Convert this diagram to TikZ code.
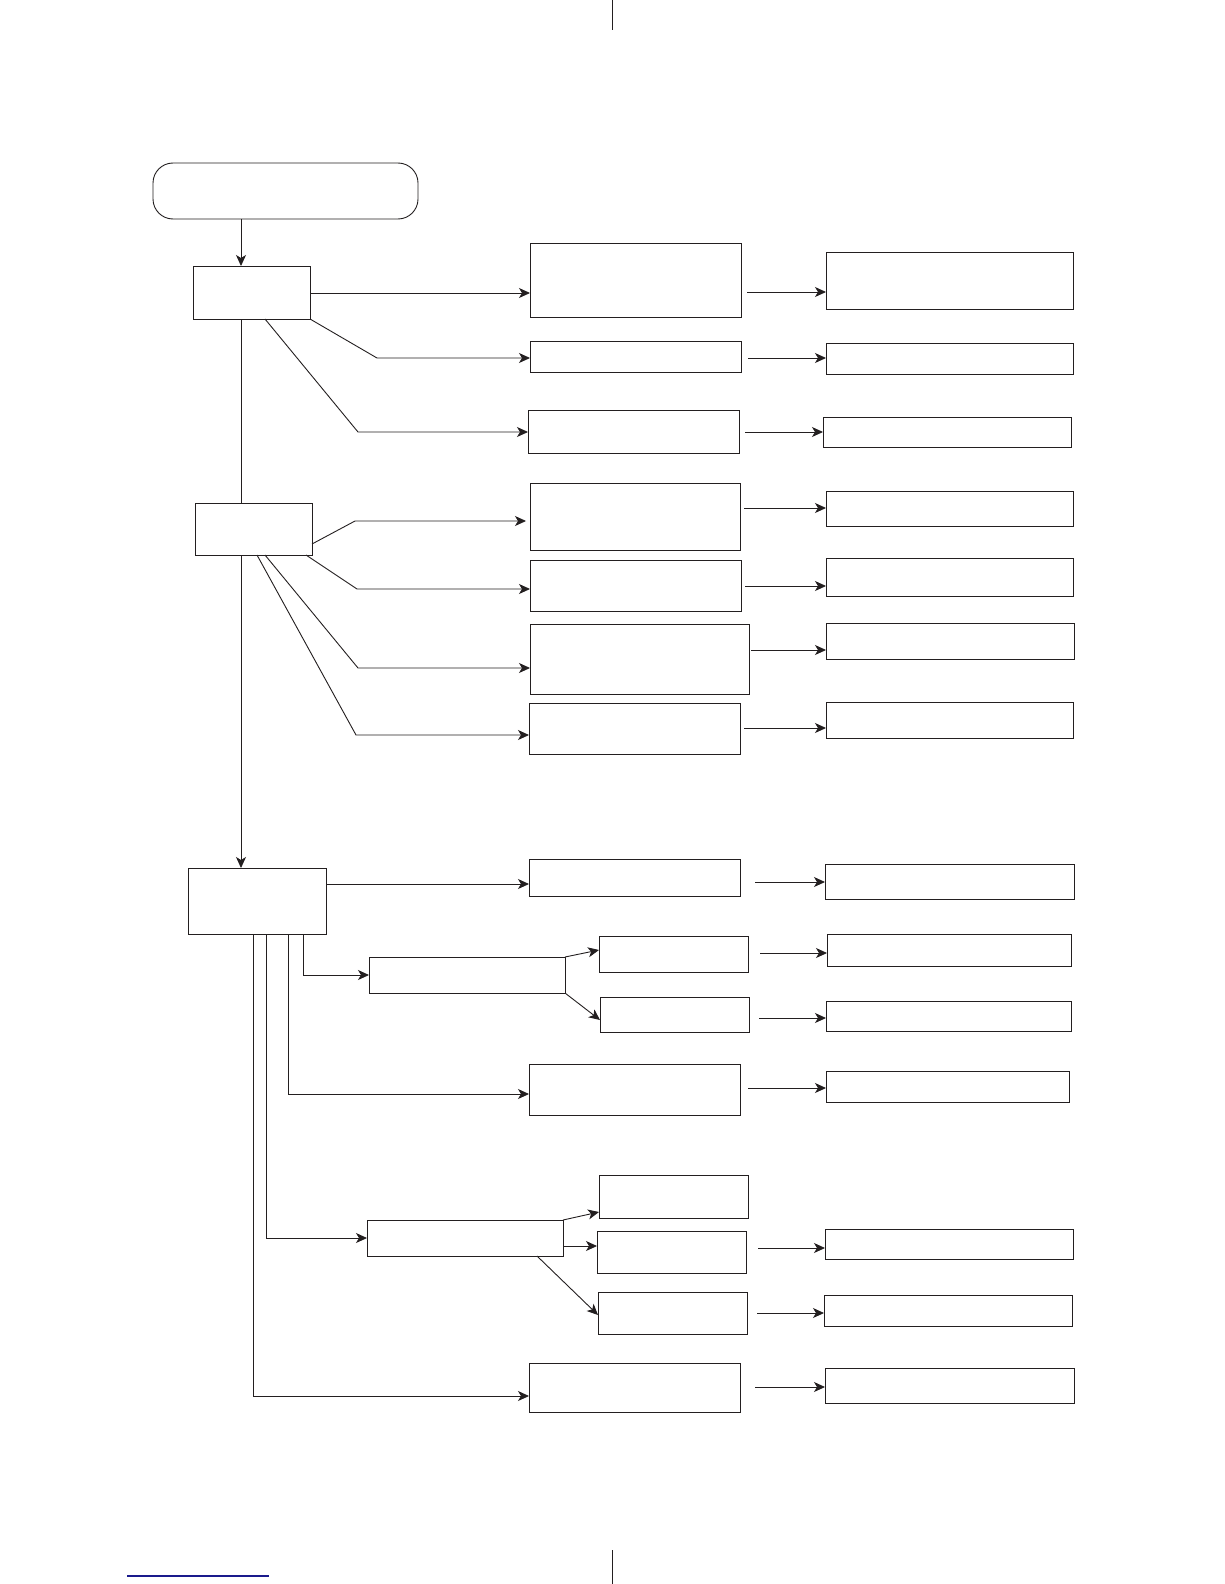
\documentclass[tikz,border=0pt]{standalone}
\usetikzlibrary{arrows.meta,fit}
\definecolor{ink}{HTML}{231F20}
\definecolor{linkblue}{HTML}{1A1A8C}
\begin{document}
\begin{tikzpicture}[x=1pt,y=-1pt,
  bx/.style={draw=ink,line width=0.9pt,inner sep=0pt,outer sep=0pt,rectangle},
  startbox/.style={bx,rounded corners=20pt},
  ln/.style={draw=ink,line width=0.9pt},
  arr/.style={ln,-{Stealth[length=11pt,width=10pt,inset=3pt]}}]
\useasboundingbox (0,0) rectangle (1224,1584);
% boxes
\node[startbox,fit={(153,163)(418,219)}] (S) {};
\node[bx,fit={(193,266)(310,319)}] (N1) {};
\node[bx,fit={(195,503)(312,555)}] (N2) {};
\node[bx,fit={(188,868)(326,934)}] (N3) {};
\node[bx,fit={(530,243)(741,317)}] (A1) {};
\node[bx,fit={(826,252)(1073,309)}] (A1R) {};
\node[bx,fit={(530,341)(741,372)}] (A2) {};
\node[bx,fit={(826,343)(1073,374)}] (A2R) {};
\node[bx,fit={(528,410)(739,453)}] (A3) {};
\node[bx,fit={(823,417)(1071,447)}] (A3R) {};
\node[bx,fit={(530,483)(740,550)}] (B1) {};
\node[bx,fit={(826,491)(1073,526)}] (B1R) {};
\node[bx,fit={(530,560)(741,611)}] (B2) {};
\node[bx,fit={(826,558)(1073,596)}] (B2R) {};
\node[bx,fit={(530,624)(749,694)}] (B3) {};
\node[bx,fit={(826,623)(1074,659)}] (B3R) {};
\node[bx,fit={(529,703)(740,754)}] (B4) {};
\node[bx,fit={(826,702)(1073,738)}] (B4R) {};
\node[bx,fit={(529,859)(740,896)}] (C1) {};
\node[bx,fit={(825,864)(1074,899)}] (C1R) {};
\node[bx,fit={(369,957)(565,993)}] (D) {};
\node[bx,fit={(599,936)(748,972)}] (D1) {};
\node[bx,fit={(827,934)(1071,966)}] (D1R) {};
\node[bx,fit={(600,997)(749,1032)}] (D2) {};
\node[bx,fit={(826,1001)(1071,1031)}] (D2R) {};
\node[bx,fit={(529,1064)(740,1115)}] (E) {};
\node[bx,fit={(826,1071)(1069,1102)}] (ER) {};
\node[bx,fit={(367,1220)(563,1256)}] (F) {};
\node[bx,fit={(599,1175)(748,1218)}] (F1) {};
\node[bx,fit={(597,1231)(746,1273)}] (F2) {};
\node[bx,fit={(825,1229)(1073,1259)}] (F2R) {};
\node[bx,fit={(598,1292)(747,1334)}] (F3) {};
\node[bx,fit={(824,1295)(1072,1326)}] (F3R) {};
\node[bx,fit={(529,1363)(740,1412)}] (G) {};
\node[bx,fit={(825,1368)(1074,1403)}] (GR) {};
% main spine
\draw[arr] (S.south -| 241,0) -- (N1.north -| 241,0);
\draw[ln] (N1.south -| 241,0) -- (N2.north -| 241,0);
\draw[arr] (N2.south -| 241,0) -- (N3.north -| 241,0);
% N1 branches
\draw[arr] (N1.east |- 0,293) -- (A1.west |- 0,293);
\draw[arr] (N1.south east) -- (377,358) -- (A2.west |- 0,358);
\draw[arr] (N1.south -| 265,0) -- (358,432) -- (A3.west |- 0,432);
% N2 branches
\draw[arr,shorten >=4pt] (N2.east |- 0,544) -- (355,521) -- (B1.west |- 0,521);
\draw[arr] (N2.south -| 306,0) -- (357,589) -- (B2.west |- 0,589);
\draw[arr] (N2.south -| 265,0) -- (358,668) -- (B3.west |- 0,668);
\draw[arr] (N2.south -| 257,0) -- (356,735) -- (B4.west |- 0,735);
% N3 branches
\draw[arr] (N3.east |- 0,884) -- (C1.west |- 0,884);
\draw[arr] (N3.south -| 303,0) -- (303,975) -- (D.west |- 0,975);
\draw[arr] (N3.south -| 288,0) -- (288,1094) -- (E.west |- 0,1094);
\draw[arr] (N3.south -| 266,0) -- (266,1238) -- (F.west |- 0,1238);
\draw[arr] (N3.south -| 253,0) -- (253,1396) -- (G.west |- 0,1396);
% D and F sub-branches
\draw[arr] (D.north east) -- (D1.west |- 0,950);
\draw[arr] (D.south east) -- (D2.west |- 0,1020);
\draw[arr] (F.north east) -- (F1.west |- 0,1212);
\draw[arr] (F.east |- 0,1246) -- (F2.west |- 0,1246);
\draw[arr] (F.south -| 537,0) -- (F3.west |- 0,1315);
% right-column arrows
\draw[arr,shorten <=6pt] (A1.east |- 0,292) -- (A1R.west |- 0,292);
\draw[arr,shorten <=7pt] (A2.east |- 0,358) -- (A2R.west |- 0,358);
\draw[arr,shorten <=6pt] (A3.east |- 0,432) -- (A3R.west |- 0,432);
\draw[arr,shorten <=4pt] (B1.east |- 0,508) -- (B1R.west |- 0,508);
\draw[arr,shorten <=4pt] (B2.east |- 0,586) -- (B2R.west |- 0,586);
\draw[arr,shorten <=2pt] (B3.east |- 0,650) -- (B3R.west |- 0,650);
\draw[arr,shorten <=4pt] (B4.east |- 0,728) -- (B4R.west |- 0,728);
\draw[arr,shorten <=15pt] (C1.east |- 0,882) -- (C1R.west |- 0,882);
\draw[arr,shorten <=12pt] (D1.east |- 0,953) -- (D1R.west |- 0,953);
\draw[arr,shorten <=10pt] (D2.east |- 0,1018) -- (D2R.west |- 0,1018);
\draw[arr,shorten <=8pt] (E.east |- 0,1088) -- (ER.west |- 0,1088);
\draw[arr,shorten <=12pt] (F2.east |- 0,1248) -- (F2R.west |- 0,1248);
\draw[arr,shorten <=10pt] (F3.east |- 0,1313) -- (F3R.west |- 0,1313);
\draw[arr,shorten <=15pt] (G.east |- 0,1387) -- (GR.west |- 0,1387);
% page marks
\draw[ink,line width=0.8pt] (612,0) -- (612,30);
\draw[ink,line width=0.8pt] (612,1550) -- (612,1584);
\draw[linkblue,line width=1.2pt] (127,1576) -- (269,1576);
\end{tikzpicture}
\end{document}
